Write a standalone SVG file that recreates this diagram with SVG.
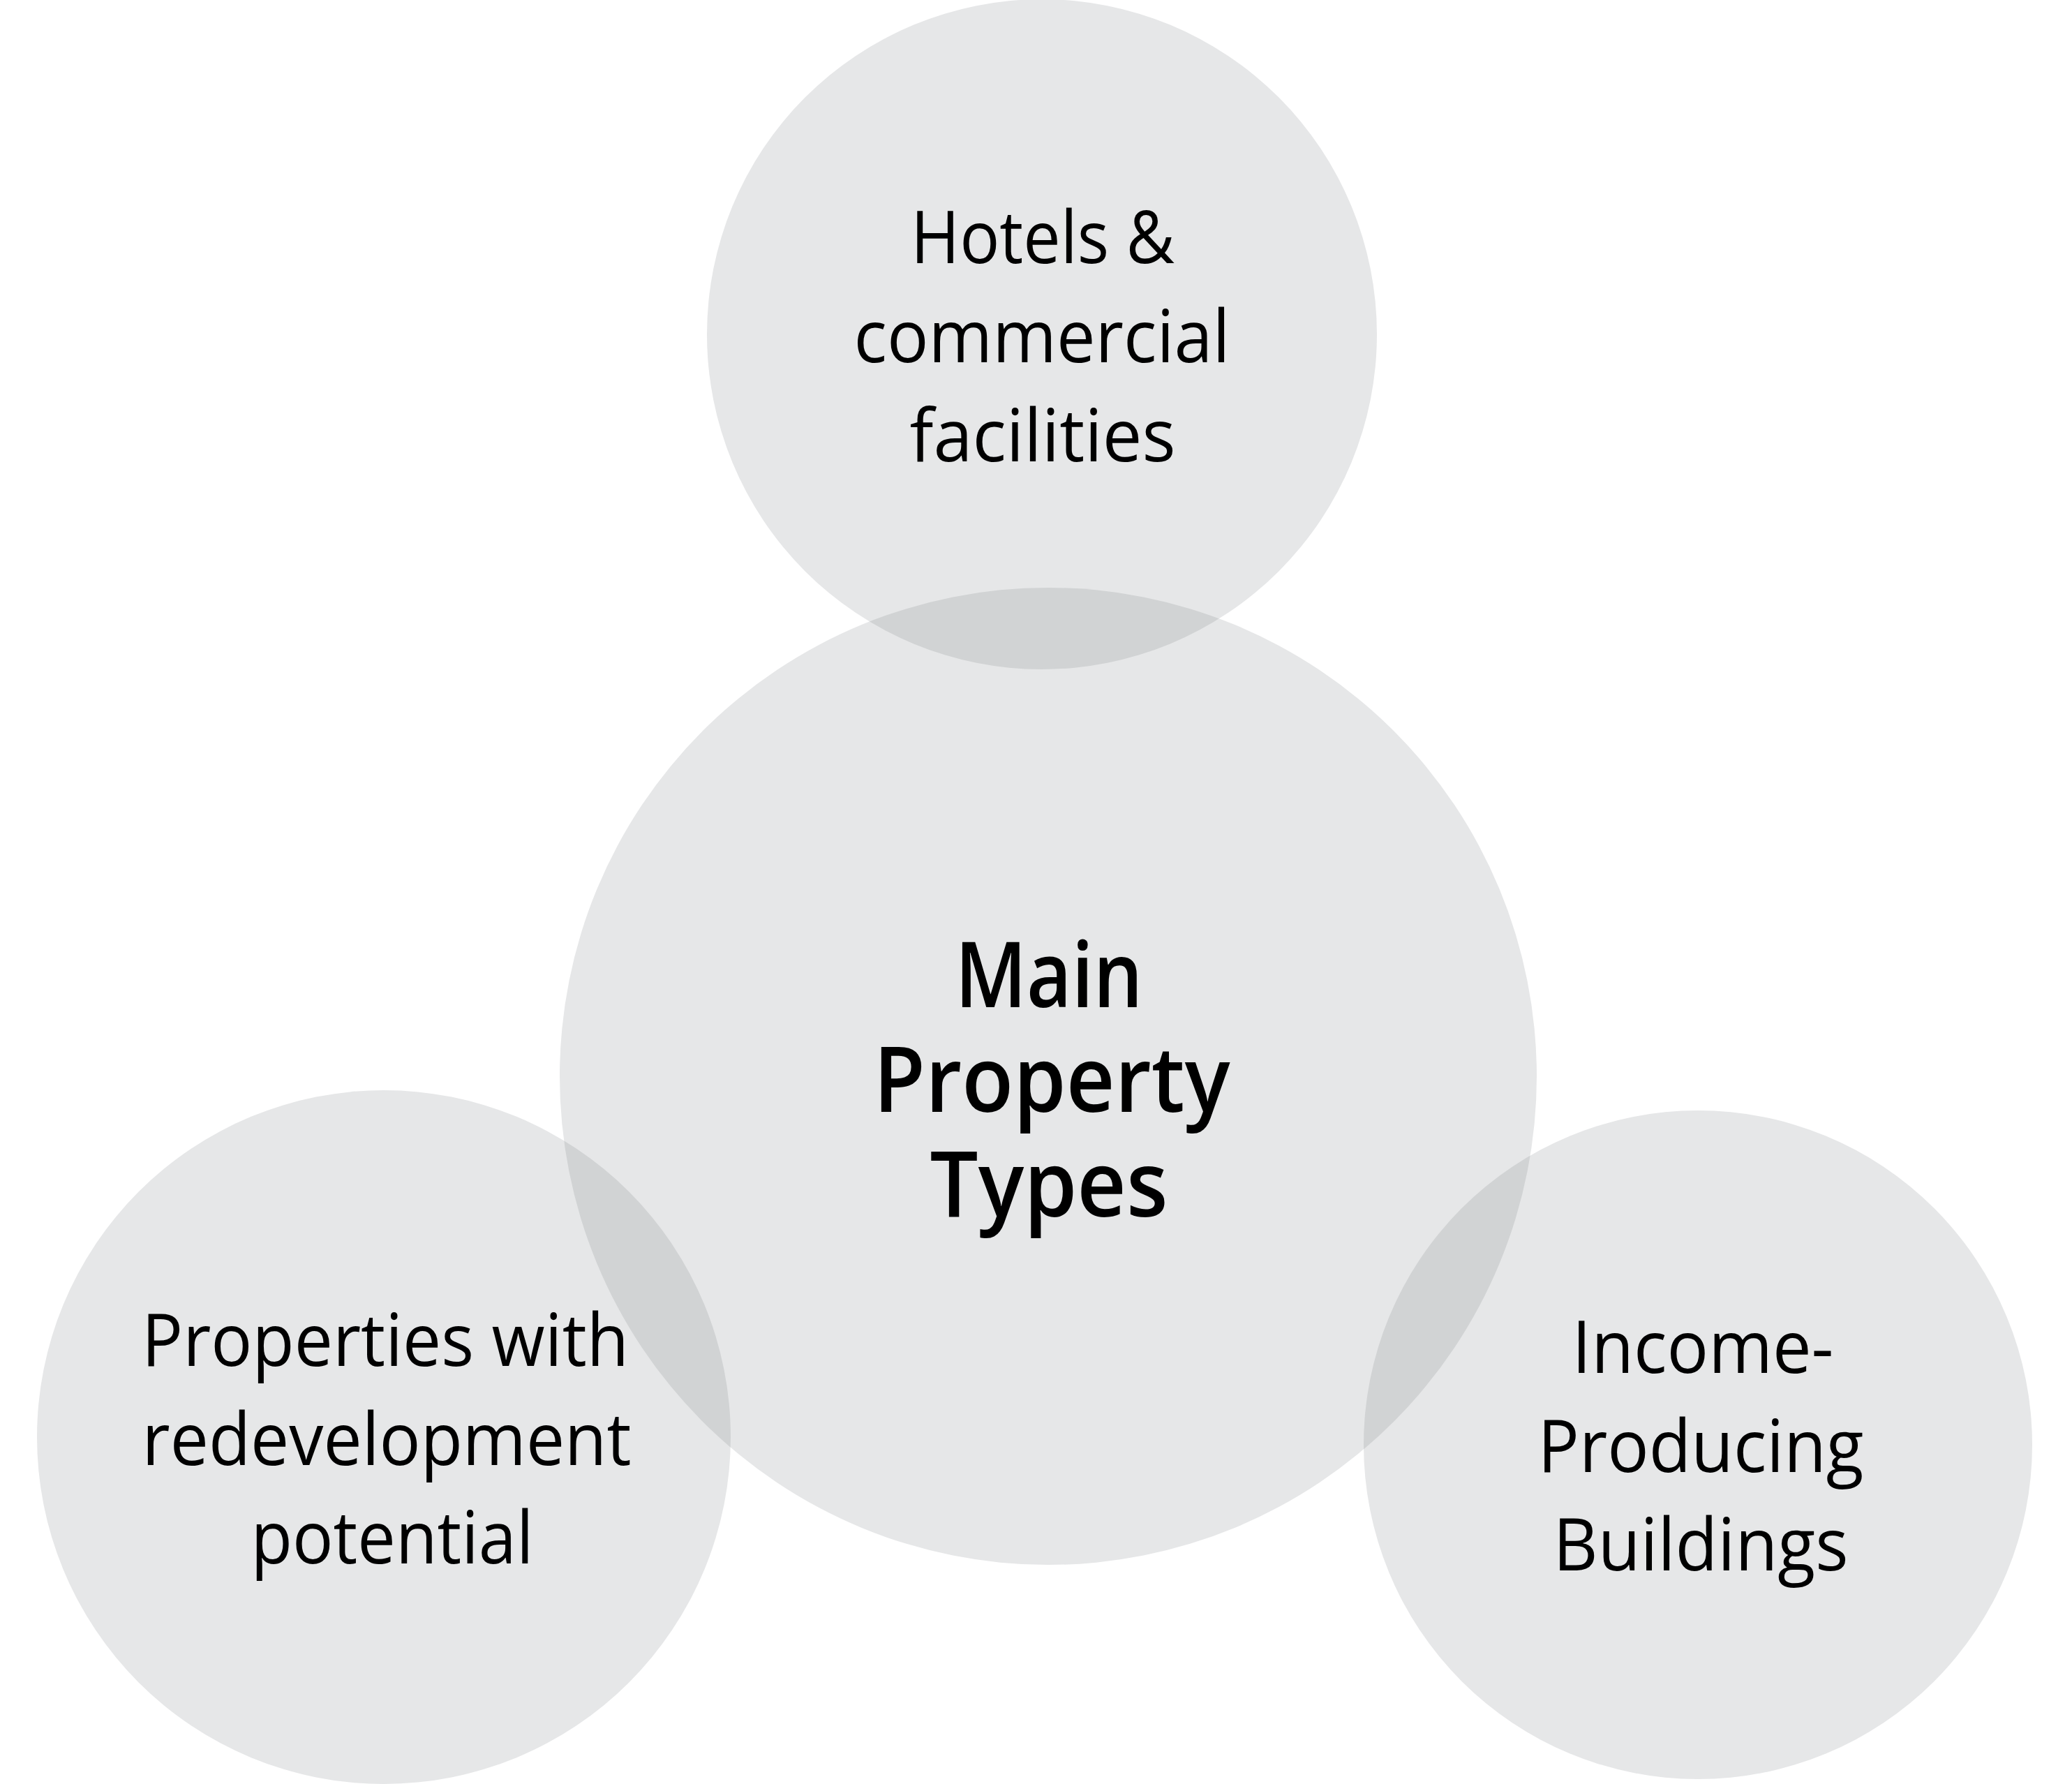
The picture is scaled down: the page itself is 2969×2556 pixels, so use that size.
<svg xmlns="http://www.w3.org/2000/svg" width="2969" height="2556" viewBox="0 0 2969 2556">
<style>
.c{fill:#e6e7e8}
.o{fill:#d1d3d4}
.t{font-family:"Open Sans","Noto Sans","Liberation Sans",sans-serif;font-size:104px;fill:#000;text-anchor:middle}
.m{font-family:"Open Sans","Noto Sans","Liberation Sans",sans-serif;font-size:130px;font-weight:600;fill:#000;text-anchor:middle}
</style>
<defs>
<clipPath id="cpTop"><circle cx="1493" cy="479" r="480"/></clipPath>
<clipPath id="cpLeft"><circle cx="550" cy="2059" r="497"/></clipPath>
<clipPath id="cpRight"><circle cx="2433" cy="2070" r="479"/></clipPath>
</defs>
<rect width="2969" height="2556" fill="#fff"/>
<g id="shapes">
<circle class="c" cx="1493" cy="479" r="480"/>
<circle class="c" cx="1502" cy="1542" r="700"/>
<circle class="c" cx="550" cy="2059" r="497"/>
<circle class="c" cx="2433" cy="2070" r="479"/>
</g>
<g id="overlaps">
<circle class="o" cx="1502" cy="1542" r="700" clip-path="url(#cpTop)"/>
<circle class="o" cx="1502" cy="1542" r="700" clip-path="url(#cpLeft)"/>
<circle class="o" cx="1502" cy="1542" r="700" clip-path="url(#cpRight)"/>
</g>
<g id="node-hotels">
<text class="t" x="1494" y="377" textLength="378" lengthAdjust="spacingAndGlyphs">Hotels &amp;</text>
<text class="t" x="1493" y="519" textLength="539" lengthAdjust="spacingAndGlyphs">commercial</text>
<text class="t" x="1494" y="661" textLength="381" lengthAdjust="spacingAndGlyphs">facilities</text>
</g>
<g id="node-main">
<text class="m" x="1503" y="1443" textLength="269" lengthAdjust="spacingAndGlyphs">Main</text>
<text class="m" x="1507" y="1593" textLength="511" lengthAdjust="spacingAndGlyphs">Property</text>
<text class="m" x="1503" y="1743" textLength="341" lengthAdjust="spacingAndGlyphs">Types</text>
</g>
<g id="node-redevelopment">
<text class="t" x="552" y="1957" textLength="698" lengthAdjust="spacingAndGlyphs">Properties with</text>
<text class="t" x="554" y="2099" textLength="701" lengthAdjust="spacingAndGlyphs">redevelopment</text>
<text class="t" x="562" y="2240" textLength="405" lengthAdjust="spacingAndGlyphs">potential</text>
</g>
<g id="node-income">
<text class="t" x="2440" y="1967" textLength="375" lengthAdjust="spacingAndGlyphs">Income-</text>
<text class="t" x="2437" y="2109" textLength="467" lengthAdjust="spacingAndGlyphs">Producing</text>
<text class="t" x="2437" y="2250" textLength="423" lengthAdjust="spacingAndGlyphs">Buildings</text>
</g>
<g id="connectors"/>
</svg>
